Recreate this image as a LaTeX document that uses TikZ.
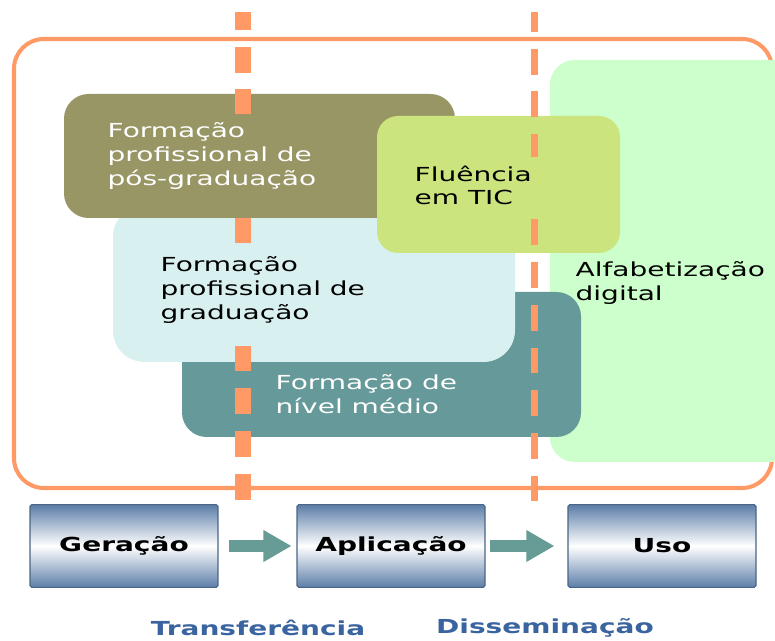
\documentclass[tikz,border=0pt]{standalone}
\usepackage{fontspec}
\usetikzlibrary{arrows.meta}
\newfontfamily\dsans[FakeStretch=1.45]{DejaVu Sans}
\definecolor{cutorange}{RGB}{255,153,102}
\definecolor{posolive}{RGB}{153,150,102}
\definecolor{ticgreen}{RGB}{204,228,125}
\definecolor{gradblue}{RGB}{217,240,240}
\definecolor{medteal}{RGB}{102,153,153}
\definecolor{alfagreen}{RGB}{204,255,204}
\definecolor{btnblue}{RGB}{92,126,168}
\definecolor{flowteal}{RGB}{102,155,150}
\definecolor{stageblue}{RGB}{58,100,160}

\begin{document}
\begin{tikzpicture}[x=0.02cm,y=-0.02cm,
    area/.style={rounded corners=14pt},
    lbl/.style={anchor=north west, align=left, inner sep=5pt,
      font=\dsans\fontsize{11}{13.5}\selectfont},
    btn/.style={minimum width=107pt, minimum height=47pt, rounded corners=1pt,
      top color=btnblue, bottom color=btnblue, middle color=white,
      draw=btnblue!80!black, line width=0.6pt,
      font=\dsans\bfseries\fontsize{11}{13}\selectfont},
    flow/.style={draw=flowteal, line width=6.8pt, -{Triangle[length=16pt,width=17pt]}},
    cut/.style={draw=cutorange, dash pattern=on 14.7pt off 9.6pt}]
    \useasboundingbox (0,0) rectangle (775,641);
    % Frame and areas
    \draw[cutorange, line width=2.3pt, rounded corners=17pt] (14,39) rectangle (772,488);
    \fill[alfagreen, area] (550,60) rectangle (800,462);
    \fill[medteal, area] (182,292) rectangle (581,437);
    \fill[gradblue, rounded corners=18pt] (113,205) rectangle (515,362);
    \fill[posolive, area] (64,94) rectangle (455,218);
    \fill[ticgreen, rounded corners=12pt] (377,116) rectangle (620,253);
    % Dashed cuts
    \draw[cut, line width=9.07pt, dash phase=4.5pt] (243,12) -- (243,502);
    \draw[cut, line width=4pt, dash phase=3.4pt] (534.5,12) -- (534.5,502);
    % Area labels
    \node[lbl, fill=posolive, text=white, text depth=6pt] (pos) at (98.5,113.5) {Formação\\profissional de\\pós-graduação};
    \node[lbl, fill=gradblue] (grad) at (151.5,247.5) {Formação\\profissional de\\graduação};
    \node[lbl, fill=ticgreen] (tic) at (405.5,156.5) {Fluência\\em TIC};
    \node[lbl, text=white] (med) at (266.5,365.5) {Formação de\\nível médio};
    \node[lbl] (alfa) at (566.5,252.5) {Alfabetização\\digital};
    % Stages
    \node[btn] (gen) at (124,546) {Geração};
    \node[btn] (apl) at (391,546) {Aplicação};
    \node[btn] (uso) at (662,546) {Uso};
    \draw[flow, shorten <=5.7pt, shorten >=2.8pt] (gen) -- (apl);
    \draw[flow, shorten <=2.8pt, shorten >=7.4pt] (apl) -- (uso);
    % Labels below
    \node[font=\dsans\bfseries\fontsize{11}{13}\selectfont, text=stageblue] (trf) at (258,628) {Transferência};
    \node[font=\dsans\bfseries\fontsize{11}{13}\selectfont, text=stageblue] (dis) at (545,628) {Disseminação};
\end{tikzpicture}
\end{document}
